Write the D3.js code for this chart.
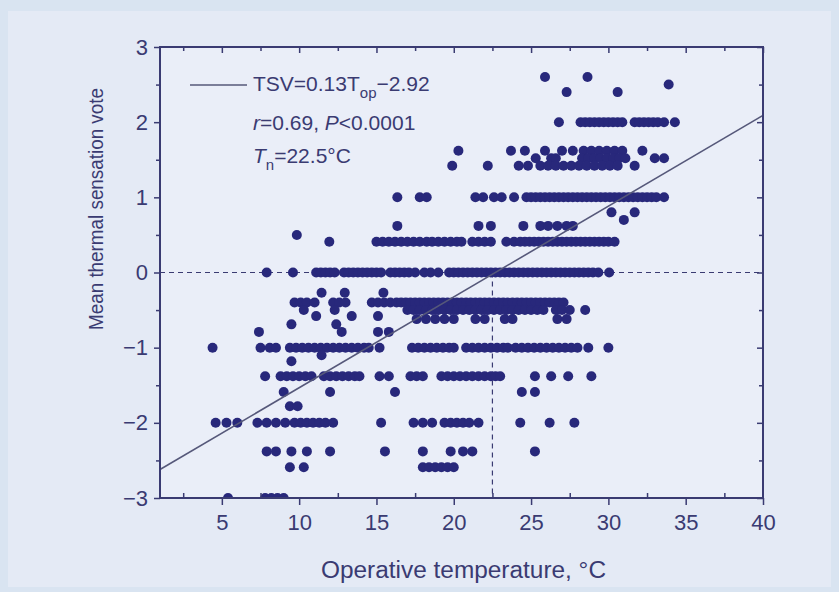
<!DOCTYPE html>
<html>
<head>
<meta charset="utf-8">
<script src="https://cdn.jsdelivr.net/npm/d3@7"></script>
<style>
  html, body { margin: 0; padding: 0; background: #d9e4f1; }
  svg { display: block; font-family: "Liberation Sans", Arial, sans-serif; }
</style>
</head>
<body>
<div id="chart"></div>
<script>
// mean thermal sensation vote levels (rows of the scatter)
const voteLevels = [2.6, 2.5, 2.4, 2.0, 1.62, 1.52, 1.42, 1.0, 0.8, 0.7, 0.62, 0.5, 0.41, 0,
  -0.27, -0.4, -0.5, -0.58, -0.62, -0.69, -0.79, -1.0, -1.1, -1.18, -1.38, -1.59, -1.78,
  -2.0, -2.38, -2.59, -3.0];

// operative temperatures (°C) observed at each vote level
const tempsAtLevel = [
  [25.9, 28.65],
  [33.9],
  [27.3, 30.6],
  [26.8, 28.2, 28.5, 28.8, 29.1, 29.4, 29.7, 30.0, 30.3, 30.6, 30.9, 31.7, 32.0, 32.3, 32.6, 32.9, 33.2, 33.6, 34.3],
  [20.3, 23.7, 24.6, 25.9, 27.0, 27.7, 28.4, 28.9, 29.4, 29.9, 30.4, 30.9, 32.2],
  [25.3, 26.3, 26.6, 28.3, 28.7, 29.1, 29.5, 29.9, 30.3, 30.7, 31.1, 33.0, 33.6],
  [19.9, 22.2, 24.2, 24.8, 25.6, 26.1, 26.6, 27.1, 27.6, 28.1, 28.6, 29.1, 29.6, 30.1, 30.6, 31.7],
  [16.35, 17.8, 18.25, 21.4, 21.9, 22.6, 23.1, 23.9, 24.7, 25.0, 25.3, 25.6, 25.9, 26.2, 26.5, 26.8,
    27.1, 27.4, 27.7, 28.0, 28.3, 28.6, 28.9, 29.2, 29.5, 29.8, 30.1, 30.4, 30.7, 31.0, 31.3, 31.6,
    31.9, 32.2, 32.5, 32.8, 33.1, 33.6],
  [30.2, 31.7],
  [31.0],
  [16.35, 21.6, 22.4, 24.5, 25.6, 26.1, 26.7, 27.3, 27.7],
  [9.85],
  [11.95, 15.0, 15.4, 15.8, 16.2, 16.6, 17.0, 17.4, 17.8, 18.25, 18.6, 19.0, 19.4, 19.8, 20.2, 20.5,
    21.2, 21.6, 22.0, 22.4, 23.4, 23.9, 24.3, 24.6, 24.9, 25.2, 25.5, 25.8, 26.1, 26.4, 26.7, 27.0,
    27.3, 27.6, 27.9, 28.2, 28.5, 28.8, 29.1, 29.4, 29.7, 30.0, 30.4],
  [7.9, 9.6, 11.1, 11.4, 11.7, 12.0, 12.3, 12.9, 13.2, 13.5, 13.8, 14.1, 14.4, 14.7, 15.0, 15.3,
    15.9, 16.2, 16.5, 16.8, 17.1, 17.5, 18.1, 18.5, 19.0, 19.7, 20.0, 20.3, 20.6, 20.9, 21.2, 21.5,
    21.8, 22.1, 22.4, 22.7, 23.0, 23.3, 23.6, 23.9, 24.2, 24.5, 24.8, 25.1, 25.4, 25.7, 26.0, 26.3,
    26.6, 26.9, 27.2, 27.5, 27.8, 28.1, 28.4, 28.7, 29.0, 29.35, 30.05],
  [11.45, 12.95, 15.45],
  [9.7, 10.1, 10.5, 11.0, 12.2, 12.6, 13.0, 14.7, 15.1, 15.5, 15.9, 16.3, 16.6, 16.9, 17.2, 17.5,
    17.8, 18.1, 18.4, 18.7, 19.0, 19.3, 19.6, 19.9, 20.2, 20.5, 20.8, 21.1, 21.4, 21.7, 22.0, 22.3,
    22.6, 22.9, 23.2, 23.5, 23.8, 24.1, 24.4, 24.7, 25.0, 25.3, 25.6, 25.9, 26.2, 26.5, 26.8, 27.1],
  [10.3, 12.3, 17.0, 17.4, 17.8, 18.2, 18.6, 19.0, 19.4, 19.8, 20.2, 20.6, 21.0, 21.4, 21.8, 22.2,
    22.6, 23.0, 23.4, 23.8, 24.2, 24.6, 25.0, 25.4, 25.8, 26.6, 27.0, 27.5, 28.5],
  [11.1, 13.4, 15.1],
  [17.6, 18.2, 18.8, 19.4, 20.0, 21.4, 22.0, 23.3, 23.8, 26.7, 27.3],
  [9.5, 12.4],
  [7.4, 12.75, 15.1, 15.8],
  [4.4, 7.5, 8.1, 8.5, 9.4, 9.8, 10.2, 10.6, 11.0, 11.4, 11.8, 12.2, 12.6, 13.0, 13.4, 13.8, 14.2,
    14.5, 15.2, 17.3, 17.7, 18.1, 18.5, 18.9, 19.3, 19.7, 20.0, 20.8, 21.2, 21.6, 22.0, 22.4, 22.8,
    23.2, 23.5, 24.0, 24.4, 24.8, 25.2, 25.6, 26.0, 26.4, 26.8, 27.2, 27.6, 28.0, 28.7, 30.0],
  [11.45],
  [9.5],
  [7.8, 8.8, 9.2, 9.6, 10.0, 10.4, 10.8, 11.6, 12.0, 12.4, 12.8, 13.2, 13.6, 13.9, 15.2, 15.8, 17.2,
    17.6, 18.0, 19.2, 19.6, 20.0, 20.4, 20.8, 21.2, 21.6, 22.0, 22.4, 22.7, 23.0, 25.25, 26.3, 27.4, 28.9],
  [9.0, 12.0, 16.2, 24.4, 25.25],
  [9.4, 9.9],
  [4.6, 5.3, 6.0, 7.3, 7.9, 8.5, 9.1, 9.7, 10.1, 10.5, 10.9, 11.3, 11.7, 12.2, 15.3, 17.4, 18.0,
    18.6, 19.4, 19.8, 20.2, 20.6, 21.0, 21.6, 24.3, 26.2, 27.8],
  [7.9, 8.5, 9.5, 10.5, 12.0, 15.55, 18.0, 19.8, 20.6, 21.2, 25.25],
  [9.4, 10.3, 18.0, 18.4, 18.8, 19.2, 19.6, 20.0],
  [5.4, 7.8, 8.2, 8.6, 9.0]
];

// fitted line as drawn, and neutral temperature
const fitTemps = [1, 40];
const fitVotes = [-2.62, 2.09];
const neutralTemp = 22.5;

const xMajorTicks = [5, 10, 15, 20, 25, 30, 35, 40];
const xMinorTicks = [2.5, 7.5, 12.5, 17.5, 22.5, 27.5, 32.5, 37.5];
const yMajorTicks = [-3, -2, -1, 0, 1, 2, 3];
const yMinorTicks = [-2.5, -1.5, -0.5, 0.5, 1.5, 2.5];

const width = 839;
const height = 592;
const margin = { top: 47, right: 76, bottom: 94, left: 160 };
const innerW = width - margin.left - margin.right;
const innerH = height - margin.top - margin.bottom;

const ink = '#3a3b72';
const dotColor = '#28287b';

const svg = d3.select('#chart')
  .append('svg')
  .attr('width', width)
  .attr('height', height);

// background panels
svg.append('rect').attr('width', width).attr('height', height).attr('fill', '#d9e4f1');
svg.append('rect')
  .attr('x', 8).attr('y', 11)
  .attr('width', width - 16).attr('height', height - 16)
  .attr('fill', '#e4eaf5');

const x = d3.scaleLinear().domain([1, 40]).range([0, innerW]);
const y = d3.scaleLinear().domain([-3, 3]).range([innerH, 0]);

const g = svg.append('g').attr('transform', `translate(${margin.left},${margin.top})`);

g.append('rect').attr('width', innerW).attr('height', innerH).attr('fill', '#eaeef8');

svg.append('defs').append('clipPath').attr('id', 'plot-clip')
  .append('rect').attr('width', innerW).attr('height', innerH);

// reference lines
g.append('line')
  .attr('x1', 0).attr('x2', innerW)
  .attr('y1', y(0)).attr('y2', y(0))
  .attr('stroke', ink).attr('stroke-width', 1.2)
  .attr('stroke-dasharray', '5,4');

g.append('line')
  .attr('x1', x(neutralTemp)).attr('x2', x(neutralTemp))
  .attr('y1', y(0)).attr('y2', innerH)
  .attr('stroke', ink).attr('stroke-width', 1.2)
  .attr('stroke-dasharray', '5,4');

// scatter
const points = [];
voteLevels.forEach((v, i) => {
  tempsAtLevel[i].forEach(t => points.push({ t, v }));
});

g.append('g')
  .attr('clip-path', 'url(#plot-clip)')
  .selectAll('circle')
  .data(points)
  .enter()
  .append('circle')
  .attr('cx', d => x(d.t))
  .attr('cy', d => y(d.v))
  .attr('r', 5)
  .attr('fill', dotColor);

// regression line
g.append('line')
  .attr('x1', x(fitTemps[0])).attr('y1', y(fitVotes[0]))
  .attr('x2', x(fitTemps[1])).attr('y2', y(fitVotes[1]))
  .attr('stroke', '#56587a')
  .attr('stroke-width', 1.6);

// axes
function styleAxis(sel) {
  sel.select('.domain').remove();
  sel.selectAll('line').attr('stroke', ink).attr('stroke-width', 1.5);
  sel.selectAll('text')
    .attr('fill', ink)
    .style('font-size', '22px');
}

g.append('g')
  .attr('transform', `translate(0,${innerH})`)
  .call(d3.axisBottom(x).tickValues(xMajorTicks).tickSize(7).tickPadding(9).tickFormat(d3.format('d')))
  .call(styleAxis);
g.append('g')
  .attr('transform', `translate(0,${innerH})`)
  .call(d3.axisBottom(x).tickValues(xMinorTicks).tickSize(-5).tickFormat(''))
  .call(styleAxis);

g.append('g')
  .call(d3.axisLeft(y).tickValues(yMajorTicks).tickSize(6).tickPadding(6)
    .tickFormat(d => d < 0 ? '\u2212' + Math.abs(d) : d))
  .call(styleAxis);
g.append('g')
  .call(d3.axisLeft(y).tickValues(yMinorTicks).tickSize(4).tickFormat(''))
  .call(styleAxis);

g.append('g')
  .call(d3.axisTop(x).tickValues(xMajorTicks).tickSize(-6).tickFormat(''))
  .call(styleAxis);
g.append('g')
  .call(d3.axisTop(x).tickValues(xMinorTicks).tickSize(-4).tickFormat(''))
  .call(styleAxis);

g.append('g')
  .attr('transform', `translate(${innerW},0)`)
  .call(d3.axisRight(y).tickValues(yMajorTicks).tickSize(-6).tickFormat(''))
  .call(styleAxis);
g.append('g')
  .attr('transform', `translate(${innerW},0)`)
  .call(d3.axisRight(y).tickValues(yMinorTicks).tickSize(-4).tickFormat(''))
  .call(styleAxis);

// frame
g.append('rect')
  .attr('width', innerW).attr('height', innerH)
  .attr('fill', 'none')
  .attr('stroke', ink)
  .attr('stroke-width', 2);

// axis titles
svg.append('text')
  .attr('x', margin.left + innerW / 2 + 2)
  .attr('y', 578)
  .attr('text-anchor', 'middle')
  .attr('fill', ink)
  .style('font-size', '23px')
  .attr('textLength', 285)
  .attr('lengthAdjust', 'spacingAndGlyphs')
  .text('Operative temperature, \u00b0C');

svg.append('text')
  .attr('transform', 'translate(103,209) rotate(-90)')
  .attr('text-anchor', 'middle')
  .attr('fill', ink)
  .style('font-size', '20px')
  .attr('textLength', 242)
  .attr('lengthAdjust', 'spacingAndGlyphs')
  .text('Mean thermal sensation vote');

// legend / annotation
const legend = svg.append('g').attr('fill', ink).style('font-size', '21px');

legend.append('line')
  .attr('x1', 190).attr('x2', 247)
  .attr('y1', 85).attr('y2', 85)
  .attr('stroke', '#56587a')
  .attr('stroke-width', 1.6);

const eq = legend.append('text').attr('x', 253).attr('y', 91);
eq.append('tspan').text('TSV=0.13T');
eq.append('tspan').attr('dy', 7).style('font-size', '15px').text('op');
eq.append('tspan').attr('dy', -7).text('\u22122.92');

const stat = legend.append('text').attr('x', 253).attr('y', 130);
stat.append('tspan').style('font-style', 'italic').text('r');
stat.append('tspan').text('=0.69, ');
stat.append('tspan').style('font-style', 'italic').text('P');
stat.append('tspan').text('<0.0001');

const tn = legend.append('text').attr('x', 253).attr('y', 163);
tn.append('tspan').style('font-style', 'italic').text('T');
tn.append('tspan').attr('dy', 7).style('font-size', '15px').text('n');
tn.append('tspan').attr('dy', -7).text('=22.5\u00b0C');
</script>
</body>
</html>
